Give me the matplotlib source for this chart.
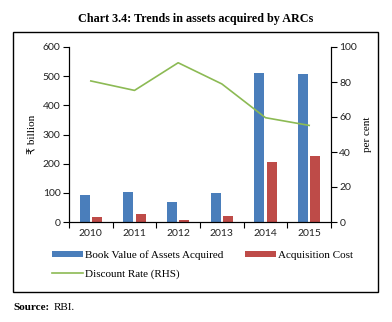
import numpy as np
import matplotlib
matplotlib.use('Agg')
import matplotlib.pyplot as plt
from matplotlib.patches import Rectangle

# 数据
years = ['2010', '2011', '2012', '2013', '2014', '2015']
book_value = [93, 103, 70, 100, 510, 506]
acq_cost = [17, 26, 7, 22, 205, 225]
discount_rate = [80.6, 75.2, 91, 78.9, 59.6, 55.2]

plt.rcParams['font.family'] = ['Liberation Serif', 'DejaVu Sans']
tick_font = ['Lato', 'DejaVu Sans']

fig = plt.figure(figsize=(3.92, 3.22), dpi=100)

# 外框
fig.patches.append(Rectangle((13 / 392, 1 - 292 / 322), 365 / 392, 260 / 322,
                             transform=fig.transFigure, fill=False,
                             edgecolor='black', linewidth=1.0))

fig.text(0.5, 1 - 19 / 322, 'Chart 3.4: Trends in assets acquired by ARCs',
         ha='center', va='center', fontsize=8.7, fontweight='bold')
fig.text(13 / 392, 1 - 307 / 322, 'Source:', ha='left', va='center',
         fontsize=8, fontweight='bold')
fig.text(54 / 392, 1 - 307 / 322, 'RBI.', ha='left', va='center', fontsize=8)

ax = fig.add_axes([69 / 392, 1 - 222 / 322, 262 / 392, 175 / 322])
x = np.arange(len(years))
w = 0.23
b1 = ax.bar(x - 0.14, book_value, w, color='#4a7ebb')
b2 = ax.bar(x + 0.14, acq_cost, w, color='#be4b48')
ax.set_xlim(-0.5, 5.5)
ax.set_ylim(0, 600)
ax.set_yticks(range(0, 601, 100))
ax.set_xticks(x)
ax.set_xticklabels(years, family=tick_font)
ax.set_xticks(np.arange(-0.5, 5.6, 1), minor=True)
ax.tick_params(axis='x', which='major', length=0, labelsize=7.5, pad=5, labelcolor='#222222')
ax.tick_params(axis='x', which='minor', length=4, width=0.8)
ax.tick_params(axis='y', labelsize=7.5, length=4, width=0.8, pad=2, labelcolor='#222222')
for lab in ax.get_yticklabels():
    lab.set_family(tick_font)
ax.set_ylabel('₹ billion', fontsize=8, labelpad=4)
ax.spines['top'].set_visible(False)

ax2 = ax.twinx()
l1, = ax2.plot(x, discount_rate, color='#8cba54', linewidth=1.2)
ax2.set_ylim(0, 100)
ax2.set_yticks(range(0, 101, 20))
ax2.tick_params(axis='y', labelsize=7.5, length=4, width=0.8, pad=2, labelcolor='#222222')
for lab in ax2.get_yticklabels():
    lab.set_family(tick_font)
ax2.set_ylabel('per cent', fontsize=8, labelpad=4)
ax2.spines['top'].set_visible(False)

# 图例：按列填充
fig.legend([b1, l1, b2],
           ['Book Value of Assets Acquired', 'Discount Rate (RHS)', 'Acquisition Cost'],
           loc='upper left', bbox_to_anchor=(42 / 392, 1 - 240 / 322),
           ncol=2, frameon=False, fontsize=8, handlelength=2.8,
           handleheight=0.5, handletextpad=0.2, columnspacing=1.9,
           labelspacing=0.85)

plt.savefig('out.png', dpi=100)
